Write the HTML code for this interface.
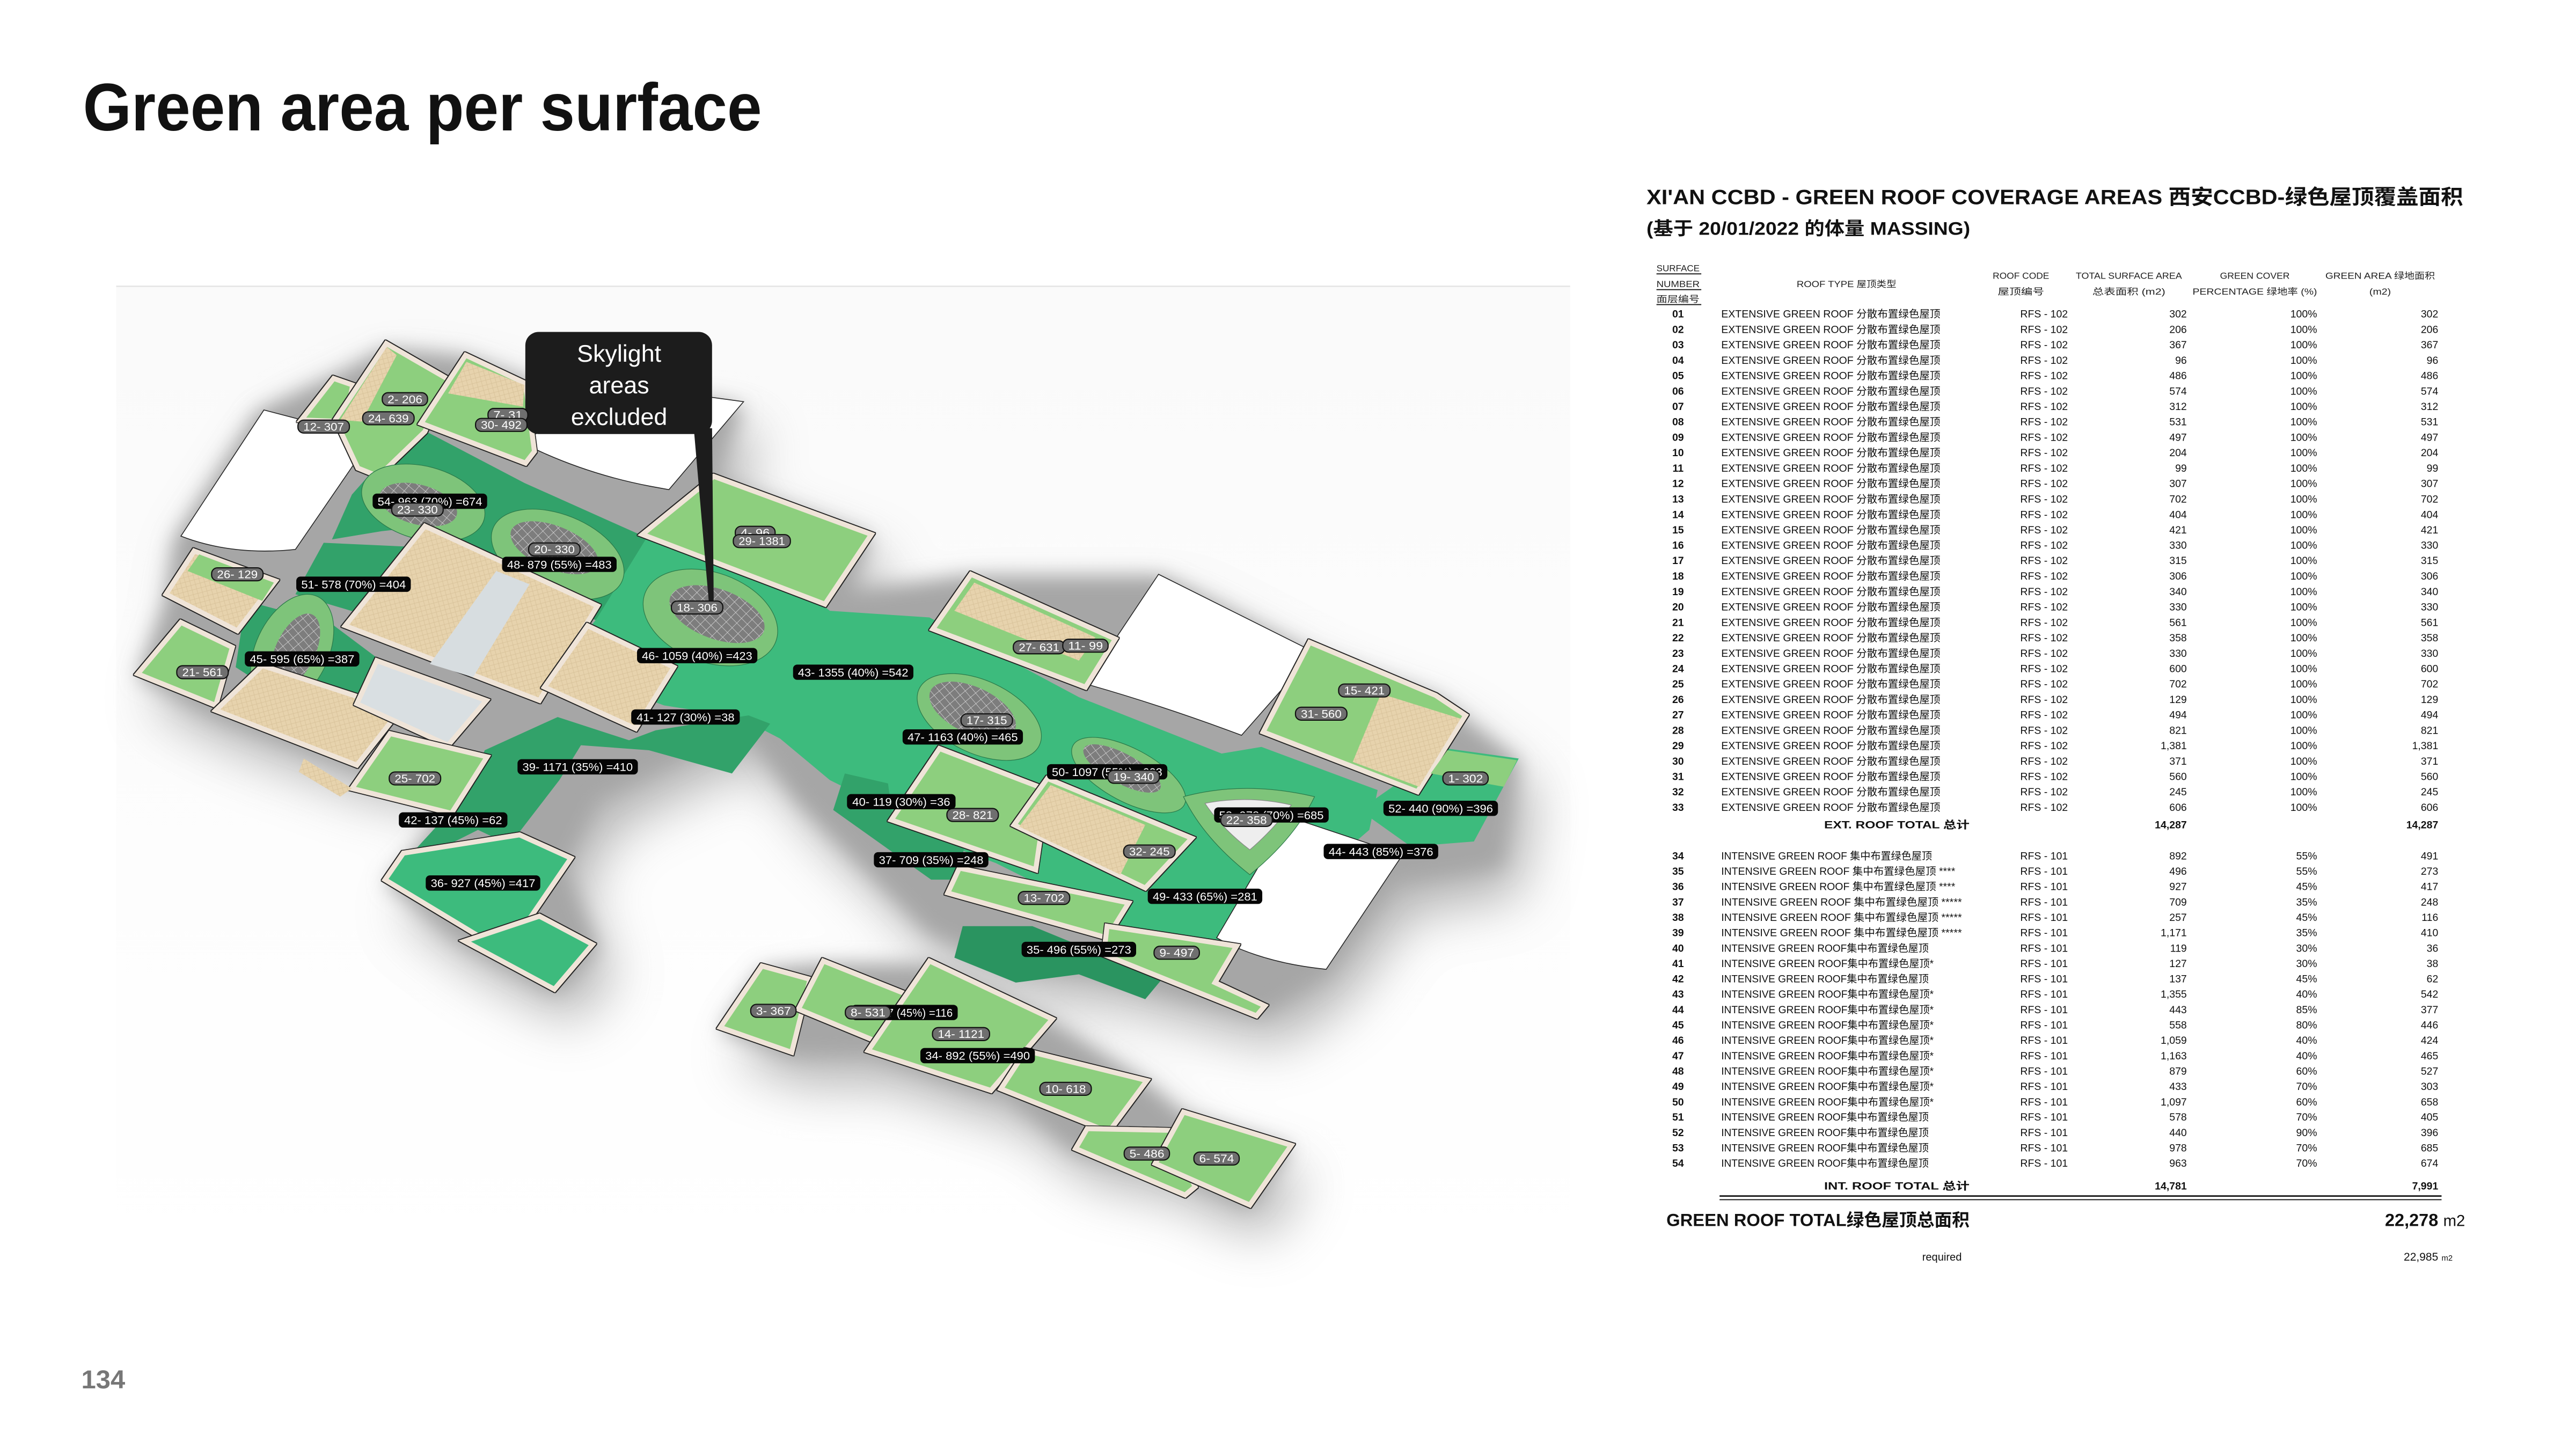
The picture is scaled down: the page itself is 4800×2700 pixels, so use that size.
<!DOCTYPE html>
<html><head><meta charset="utf-8">
<style>
html,body{margin:0;padding:0;background:#fff;}
svg{display:block;}
.f{font-family:"Liberation Sans","Noto Sans CJK SC",sans-serif;}
.tb text{font-size:6.3px;fill:#111;}
.tb .n{text-anchor:middle;font-weight:bold;}
.tb .m{text-anchor:middle;}
.tb .r{text-anchor:end;}
.hd text{font-size:5.3px;fill:#222;text-anchor:middle;}
.tile{stroke:#efe4d8;stroke-width:3;stroke-linejoin:miter;filter:url(#ol);}
.lg{fill:#8dcf7e;}
.bg{fill:#3dbb7d;}
.dg{fill:#32a26a;}
.tan{fill:url(#hatch);}
.wh{fill:#fff;stroke:#222;stroke-width:0.5;}
.bl rect{fill:#050505;}
.bl text{fill:#fff;font-size:7px;text-anchor:middle;}
.gl rect{fill:#6f6f6f;stroke:#111;stroke-width:0.7;}
.gl text{fill:#fff;font-size:7px;text-anchor:middle;}
</style></head>
<body>
<svg class="f" width="4800" height="2700" viewBox="0 0 1552 873" xmlns="http://www.w3.org/2000/svg">
<defs>
<filter id="blur" x="-20%" y="-20%" width="140%" height="140%"><feGaussianBlur stdDeviation="16"/></filter>
<filter id="blur2" x="-20%" y="-20%" width="140%" height="140%"><feGaussianBlur stdDeviation="6"/></filter>
<filter id="ol" x="-10%" y="-10%" width="120%" height="120%"><feMorphology in="SourceAlpha" operator="dilate" radius="0.5" result="d"/><feFlood flood-color="#222"/><feComposite in2="d" operator="in" result="o"/><feMerge><feMergeNode in="o"/><feMergeNode in="SourceGraphic"/></feMerge></filter>
<pattern id="hatch" width="4" height="4" patternUnits="userSpaceOnUse" patternTransform="rotate(30)"><rect width="4" height="4" fill="#e7d3ad"/><path d="M0 0L4 4M4 0L0 4" stroke="#d8c29a" stroke-width="0.3"/></pattern>
<pattern id="grid" width="5" height="4" patternUnits="userSpaceOnUse" patternTransform="rotate(25)"><rect width="5" height="4" fill="#7d7d7d"/><path d="M0 0H5M0 0V4" stroke="#d9d9d9" stroke-width="0.5"/></pattern>
<linearGradient id="bgg" x1="0" y1="0" x2="0" y2="1"><stop offset="0" stop-color="#fafafa"/><stop offset="1" stop-color="#ffffff"/></linearGradient>
</defs>

<text x="50" y="78.6" font-size="40.5" font-weight="bold" fill="#111" textLength="409" lengthAdjust="spacingAndGlyphs">Green area per surface</text>
<text x="49" y="836.4" font-size="15.5" font-weight="bold" fill="#777" textLength="26.4" lengthAdjust="spacingAndGlyphs">134</text>

<rect x="70" y="173" width="876" height="591" fill="url(#bgg)"/>
<line x1="70" y1="172.5" x2="946" y2="172.5" stroke="#e3e3e3" stroke-width="0.8"/>

<g filter="url(#blur)" fill="#959595" opacity="0.7">
<polygon points="115,335 165,260 215,235 245,225 290,232 340,250 440,258 458,262 440,305 535,340 520,375 590,365 710,365 802,412 875,438 925,477 915,540 850,550 810,605 770,630 730,620 670,605 620,600 570,580 490,500 460,460 430,470 370,500 350,540 370,590 345,616 290,587 242,550 260,530 290,490 225,481 140,450 93,426 110,380"/>
<polygon points="469,602 506,599 570,599 644,634 701,671 723,690 788,710 763,746 706,721 658,712 613,676 607,677 533,653 487,654 444,639"/>
</g>
<g filter="url(#blur2)" fill="#a6a6a6">
<polygon points="105,325 155,248 205,225 232,210 280,215 330,234 430,242 448,246 430,289 525,324 510,357 580,347 700,347 792,395 865,420 915,459 905,522 840,532 800,587 760,612 720,602 660,587 610,582 560,562 480,482 450,442 420,452 360,482 340,522 360,572 335,598 280,569 232,532 250,512 280,472 215,463 130,432 83,408 100,362"/>
<polygon points="459,584 496,581 560,581 634,616 691,653 713,672 778,692 753,728 696,703 648,694 603,658 597,659 523,635 477,636 434,621"/>
</g>

<polygon class="dg" points="253,258 316,291 392,325 392,342 360,374 300,350 258,317 230,320 200,325 212,298 235,272"/>
<polygon class="dg" points="195,327 260,330 250,360 235,375 178,358"/>
<polygon class="dg" points="148,362 200,376 232,400 218,432 170,420 142,402"/>
<polygon class="bg" points="389,325 470,345 500,368 560,372 650,420 736,454 760,450 830,476 825,500 790,530 760,560 720,590 690,580 640,540 600,520 560,505 520,480 500,470 470,445 445,432 400,425 360,410 345,392 360,372"/>
<polygon class="dg" points="292,452 336,432 379,446 395,440 451,431 464,436 441,466 391,452 350,449 337,470 307,509 288,500 260,514 251,511 284,475"/>
<polygon class="dg" points="509,466 535,472 538,494 581,509 578,530 561,530 502,488"/>
<polygon fill="#2a9460" points="580,558 622,558 700,590 690,602 650,587 612,592 575,577"/>
<polygon class="bg" points="819,488 872,451 915,457 888,507 850,510"/>

<path class="wh" d="M109,323 L159,247 L224,264 L178,331 Q140,335 109,323 Z"/>
<path class="wh" d="M313,266 L330,258 L426,239 L448,242 L403,295 L392,293 Q350,285 313,266 Z"/>
<path class="wh" d="M698,346 L792,393 L748,443 Q700,425 654,412 Z"/>
<path class="wh" d="M776,492 L845,515 L799,584 Q760,580 733,565 Z"/>

<polygon class="tile lg" points="201,228 212.5,232 208,254 181.5,253"/>
<polygon class="tile lg" points="232.7,207 270,228.5 256,260 228,287 215.6,282 202,253"/>
<polygon class="tan" points="233,209 239,214 218,254 205,253"/>
<polygon class="tile lg" points="280.5,214 316.6,231 322,272 316.6,279 253.7,255"/>
<polygon class="tan" points="281,218 316,232 315,245 270,237"/>
<polygon class="tile lg" points="430,287 525,322 497,364 387,322"/>
<polygon class="tile tan" points="117,332 166,350 143,380 100,358"/>
<polygon class="lg" points="120,334 165,351 158,362 113,344"/>
<polygon class="tile lg" points="109,375 140,390 130,425 83,406"/>

<ellipse cx="255" cy="303" rx="38" ry="22" transform="rotate(15 255 303)" fill="#7ec47a" stroke="#2a7a4a" stroke-width="0.4"/>
<ellipse cx="252" cy="304" rx="24" ry="12" transform="rotate(15 252 304)" fill="url(#grid)"/>
<ellipse cx="336" cy="334" rx="42" ry="24" transform="rotate(22 336 334)" fill="#7ec47a" stroke="#2a7a4a" stroke-width="0.4"/>
<ellipse cx="334" cy="330" rx="28" ry="13" transform="rotate(22 334 330)" fill="url(#grid)"/>
<ellipse cx="428" cy="372" rx="42" ry="27" transform="rotate(20 428 372)" fill="#7ec47a" stroke="#2a7a4a" stroke-width="0.4"/>
<ellipse cx="432" cy="370" rx="30" ry="15" transform="rotate(20 432 370)" fill="url(#grid)"/>
<ellipse cx="176" cy="392" rx="22" ry="36" transform="rotate(25 176 392)" fill="#7ec47a" stroke="#2a7a4a" stroke-width="0.4"/>
<ellipse cx="178" cy="392" rx="12" ry="24" transform="rotate(25 178 392)" fill="url(#grid)"/>
<ellipse cx="590" cy="432" rx="40" ry="22" transform="rotate(25 590 432)" fill="#7ec47a" stroke="#2a7a4a" stroke-width="0.4"/>
<ellipse cx="586" cy="428" rx="28" ry="14" transform="rotate(25 586 428)" fill="url(#grid)"/>
<ellipse cx="680" cy="467" rx="38" ry="16" transform="rotate(28 680 467)" fill="#7ec47a" stroke="#2a7a4a" stroke-width="0.4"/>
<ellipse cx="676" cy="463" rx="26" ry="9" transform="rotate(28 676 463)" fill="url(#grid)"/>
<path d="M713,480 Q750,470 792,480 Q780,505 753,527 Q725,505 713,480 Z" fill="#7ec47a" stroke="#2a7a4a" stroke-width="0.4"/>
<path d="M726,484 Q752,479 778,485 Q768,499 753,512 Q736,499 726,484 Z" fill="#eeeeee" stroke="#888" stroke-width="0.4"/>

<polygon class="tile tan" points="256,317 360,365 325,422 208,377"/>
<polygon fill="#d7dde0" points="299,344 319,352 285,408 259,400"/>
<polygon class="tile tan" points="354,377 406,402 383,439 328,414"/>
<polygon class="tile tan" points="130,428 158,401 241,428 215,461"/>
<polygon class="tile" fill="#d9dfe2" points="227,398 293,422 270,449 215,424"/>
<polygon class="tile lg" points="235,442 293.5,456 272,490 212,475"/>
<polygon class="tan" points="183,457 212,475 205,480 180,465"/>

<polygon class="tile bg" points="243,514 313,503 344,517 305,574 232,530"/>
<polygon class="tile bg" points="325,552 357,569 334,596 280,567"/>

<polygon class="tile lg" points="585,346 672,385 654,414 562,379"/>
<polygon class="tan" points="587,351 660,384 650,398 575,368"/>
<polygon class="tile lg" points="789,387 865,419 883,431 854,477 761,441"/>
<polygon class="tan" points="832,418 880,433 855,474 815,459"/>
<polygon class="lg" points="872,452 914,458 906,474 862,466"/>
<polygon class="tile lg" points="566,451 631,476 624,524 537,494"/>
<polygon class="tile lg" points="631,469 718,505 690,535 611,497"/>
<polygon class="tan" points="633,473 690,497 675,527 614,498"/>
<polygon class="tile lg" points="578,523 680,544 667,565 571,538"/>
<polygon class="tile lg" points="667,558 745,570 732,592 762,606 757,612 665,575"/>

<polygon class="tile lg" points="459,582 488,590 477,634 434,619"/>
<polygon class="tile lg" points="496,579 546,599 527,627 481,608"/>
<polygon class="tile lg" points="560,579 634,614 597,657 523,633"/>
<polygon class="tile lg" points="618,633 691,651 668,682 603,656"/>
<polygon class="tile lg" points="655,680 705,681 720,715 714,720 648,692"/>
<polygon class="tile lg" points="713,670 778,690 753,726 696,701"/>

<rect x="316.5" y="200" width="112.5" height="61.5" rx="8" fill="#1c1c1c"/>
<polygon points="418,258 429,258 430,362 427,362" fill="#1c1c1c"/>
<text x="373" y="218" font-size="14.5" fill="#fff" text-anchor="middle">Skylight</text>
<text x="373" y="237" font-size="14.5" fill="#fff" text-anchor="middle">areas</text>
<text x="373" y="256" font-size="14.5" fill="#fff" text-anchor="middle">excluded</text>

<g class="bl">
<g transform="translate(259,302)"><rect x="-34.5" y="-4.6" width="69" height="9.2" rx="2.5"/><text y="2.5" textLength="63" lengthAdjust="spacingAndGlyphs">54- 963 (70%) =674</text></g>
</g>
<g class="gl">
<g transform="translate(251.5,307)"><rect x="-15.5" y="-3.9" width="31" height="7.8" rx="3.5"/><text y="2.4" textLength="24.5" lengthAdjust="spacingAndGlyphs">23- 330</text></g>
<g transform="translate(334,331)"><rect x="-15.5" y="-3.9" width="31" height="7.8" rx="3.5"/><text y="2.4" textLength="24.5" lengthAdjust="spacingAndGlyphs">20- 330</text></g>
<g transform="translate(244,240.5)"><rect x="-13.7" y="-3.9" width="27.3" height="7.8" rx="3.5"/><text y="2.4" textLength="21" lengthAdjust="spacingAndGlyphs">2- 206</text></g>
<g transform="translate(234,252)"><rect x="-15.5" y="-3.9" width="31" height="7.8" rx="3.5"/><text y="2.4" textLength="24.5" lengthAdjust="spacingAndGlyphs">24- 639</text></g>
<g transform="translate(195,257)"><rect x="-15.5" y="-3.9" width="31" height="7.8" rx="3.5"/><text y="2.4" textLength="24.5" lengthAdjust="spacingAndGlyphs">12- 307</text></g>
<g transform="translate(306,250)"><rect x="-12" y="-3.9" width="24" height="7.8" rx="3.5"/><text y="2.4" textLength="17.5" lengthAdjust="spacingAndGlyphs">7- 31</text></g>
<g transform="translate(302,256)"><rect x="-15.5" y="-3.9" width="31" height="7.8" rx="3.5"/><text y="2.4" textLength="24.5" lengthAdjust="spacingAndGlyphs">30- 492</text></g>
<g transform="translate(455,321)"><rect x="-12" y="-3.9" width="24" height="7.8" rx="3.5"/><text y="2.4" textLength="17.5" lengthAdjust="spacingAndGlyphs">4- 96</text></g>
<g transform="translate(459,326)"><rect x="-17.2" y="-3.9" width="34.4" height="7.8" rx="3.5"/><text y="2.4" textLength="28" lengthAdjust="spacingAndGlyphs">29- 1381</text></g>
<g transform="translate(143,346)"><rect x="-15.5" y="-3.9" width="31" height="7.8" rx="3.5"/><text y="2.4" textLength="24.5" lengthAdjust="spacingAndGlyphs">26- 129</text></g>
<g transform="translate(420,366)"><rect x="-15.5" y="-3.9" width="31" height="7.8" rx="3.5"/><text y="2.4" textLength="24.5" lengthAdjust="spacingAndGlyphs">18- 306</text></g>
<g transform="translate(122,405)"><rect x="-15.5" y="-3.9" width="31" height="7.8" rx="3.5"/><text y="2.4" textLength="24.5" lengthAdjust="spacingAndGlyphs">21- 561</text></g>
<g transform="translate(250,469)"><rect x="-15.5" y="-3.9" width="31" height="7.8" rx="3.5"/><text y="2.4" textLength="24.5" lengthAdjust="spacingAndGlyphs">25- 702</text></g>
<g transform="translate(626,390)"><rect x="-15.5" y="-3.9" width="31" height="7.8" rx="3.5"/><text y="2.4" textLength="24.5" lengthAdjust="spacingAndGlyphs">27- 631</text></g>
<g transform="translate(654,389)"><rect x="-13.7" y="-3.9" width="27.3" height="7.8" rx="3.5"/><text y="2.4" textLength="21" lengthAdjust="spacingAndGlyphs">11- 99</text></g>
<g transform="translate(822,416)"><rect x="-15.5" y="-3.9" width="31" height="7.8" rx="3.5"/><text y="2.4" textLength="24.5" lengthAdjust="spacingAndGlyphs">15- 421</text></g>
<g transform="translate(796,430)"><rect x="-15.5" y="-3.9" width="31" height="7.8" rx="3.5"/><text y="2.4" textLength="24.5" lengthAdjust="spacingAndGlyphs">31- 560</text></g>
<g transform="translate(594.5,434)"><rect x="-15.5" y="-3.9" width="31" height="7.8" rx="3.5"/><text y="2.4" textLength="24.5" lengthAdjust="spacingAndGlyphs">17- 315</text></g>
<g transform="translate(883,469)"><rect x="-13.7" y="-3.9" width="27.3" height="7.8" rx="3.5"/><text y="2.4" textLength="21" lengthAdjust="spacingAndGlyphs">1- 302</text></g>
<g transform="translate(586,491)"><rect x="-15.5" y="-3.9" width="31" height="7.8" rx="3.5"/><text y="2.4" textLength="24.5" lengthAdjust="spacingAndGlyphs">28- 821</text></g>
<g transform="translate(692.5,513)"><rect x="-15.5" y="-3.9" width="31" height="7.8" rx="3.5"/><text y="2.4" textLength="24.5" lengthAdjust="spacingAndGlyphs">32- 245</text></g>
<g transform="translate(629,541)"><rect x="-15.5" y="-3.9" width="31" height="7.8" rx="3.5"/><text y="2.4" textLength="24.5" lengthAdjust="spacingAndGlyphs">13- 702</text></g>
<g transform="translate(709,574)"><rect x="-13.7" y="-3.9" width="27.3" height="7.8" rx="3.5"/><text y="2.4" textLength="21" lengthAdjust="spacingAndGlyphs">9- 497</text></g>
<g transform="translate(466,609)"><rect x="-13.7" y="-3.9" width="27.3" height="7.8" rx="3.5"/><text y="2.4" textLength="21" lengthAdjust="spacingAndGlyphs">3- 367</text></g>
<g transform="translate(579,623)"><rect x="-17.2" y="-3.9" width="34.4" height="7.8" rx="3.5"/><text y="2.4" textLength="28" lengthAdjust="spacingAndGlyphs">14- 1121</text></g>
<g transform="translate(642,656)"><rect x="-15.5" y="-3.9" width="31" height="7.8" rx="3.5"/><text y="2.4" textLength="24.5" lengthAdjust="spacingAndGlyphs">10- 618</text></g>
<g transform="translate(691,695)"><rect x="-13.7" y="-3.9" width="27.3" height="7.8" rx="3.5"/><text y="2.4" textLength="21" lengthAdjust="spacingAndGlyphs">5- 486</text></g>
<g transform="translate(733,698)"><rect x="-13.7" y="-3.9" width="27.3" height="7.8" rx="3.5"/><text y="2.4" textLength="21" lengthAdjust="spacingAndGlyphs">6- 574</text></g>
</g>
<g class="bl">
<g transform="translate(337,340)"><rect x="-34.5" y="-4.6" width="69" height="9.2" rx="2.5"/><text y="2.5" textLength="63" lengthAdjust="spacingAndGlyphs">48- 879 (55%) =483</text></g>
<g transform="translate(213,352)"><rect x="-34.5" y="-4.6" width="69" height="9.2" rx="2.5"/><text y="2.5" textLength="63" lengthAdjust="spacingAndGlyphs">51- 578 (70%) =404</text></g>
<g transform="translate(182,397)"><rect x="-34.5" y="-4.6" width="69" height="9.2" rx="2.5"/><text y="2.5" textLength="63" lengthAdjust="spacingAndGlyphs">45- 595 (65%) =387</text></g>
<g transform="translate(420,395)"><rect x="-36.2" y="-4.6" width="72.5" height="9.2" rx="2.5"/><text y="2.5" textLength="66.5" lengthAdjust="spacingAndGlyphs">46- 1059 (40%) =423</text></g>
<g transform="translate(514,405)"><rect x="-36.2" y="-4.6" width="72.5" height="9.2" rx="2.5"/><text y="2.5" textLength="66.5" lengthAdjust="spacingAndGlyphs">43- 1355 (40%) =542</text></g>
<g transform="translate(413,432)"><rect x="-32.7" y="-4.6" width="65.4" height="9.2" rx="2.5"/><text y="2.5" textLength="59" lengthAdjust="spacingAndGlyphs">41- 127 (30%) =38</text></g>
<g transform="translate(348,462)"><rect x="-36.2" y="-4.6" width="72.5" height="9.2" rx="2.5"/><text y="2.5" textLength="66.5" lengthAdjust="spacingAndGlyphs">39- 1171 (35%) =410</text></g>
<g transform="translate(273,494)"><rect x="-32.7" y="-4.6" width="65.4" height="9.2" rx="2.5"/><text y="2.5" textLength="59" lengthAdjust="spacingAndGlyphs">42- 137 (45%) =62</text></g>
<g transform="translate(291,532)"><rect x="-34.5" y="-4.6" width="69" height="9.2" rx="2.5"/><text y="2.5" textLength="63" lengthAdjust="spacingAndGlyphs">36- 927 (45%) =417</text></g>
<g transform="translate(580,444)"><rect x="-36.2" y="-4.6" width="72.5" height="9.2" rx="2.5"/><text y="2.5" textLength="66.5" lengthAdjust="spacingAndGlyphs">47- 1163 (40%) =465</text></g>
<g transform="translate(667,465)"><rect x="-36.2" y="-4.6" width="72.5" height="9.2" rx="2.5"/><text y="2.5" textLength="66.5" lengthAdjust="spacingAndGlyphs">50- 1097 (55%) =603</text></g>
<g transform="translate(543,483)"><rect x="-32.7" y="-4.6" width="65.4" height="9.2" rx="2.5"/><text y="2.5" textLength="59" lengthAdjust="spacingAndGlyphs">40- 119 (30%) =36</text></g>
<g transform="translate(766,491)"><rect x="-34.5" y="-4.6" width="69" height="9.2" rx="2.5"/><text y="2.5" textLength="63" lengthAdjust="spacingAndGlyphs">53- 978 (70%) =685</text></g>
<g transform="translate(868,487)"><rect x="-34.5" y="-4.6" width="69" height="9.2" rx="2.5"/><text y="2.5" textLength="63" lengthAdjust="spacingAndGlyphs">52- 440 (90%) =396</text></g>
<g transform="translate(832,513)"><rect x="-34.5" y="-4.6" width="69" height="9.2" rx="2.5"/><text y="2.5" textLength="63" lengthAdjust="spacingAndGlyphs">44- 443 (85%) =376</text></g>
<g transform="translate(561,518)"><rect x="-34.5" y="-4.6" width="69" height="9.2" rx="2.5"/><text y="2.5" textLength="63" lengthAdjust="spacingAndGlyphs">37- 709 (35%) =248</text></g>
<g transform="translate(726,540)"><rect x="-34.5" y="-4.6" width="69" height="9.2" rx="2.5"/><text y="2.5" textLength="63" lengthAdjust="spacingAndGlyphs">49- 433 (65%) =281</text></g>
<g transform="translate(650,572)"><rect x="-34.5" y="-4.6" width="69" height="9.2" rx="2.5"/><text y="2.5" textLength="63" lengthAdjust="spacingAndGlyphs">35- 496 (55%) =273</text></g>
<g transform="translate(545,610)"><rect x="-32" y="-4.6" width="64" height="9.2" rx="2.5"/><text y="2.5" textLength="58" lengthAdjust="spacingAndGlyphs">38- 257 (45%) =116</text></g>
<g transform="translate(589,636)"><rect x="-34.5" y="-4.6" width="69" height="9.2" rx="2.5"/><text y="2.5" textLength="63" lengthAdjust="spacingAndGlyphs">34- 892 (55%) =490</text></g>
</g>
<g class="gl">
<g transform="translate(683,468)"><rect x="-15.5" y="-3.9" width="31" height="7.8" rx="3.5"/><text y="2.4" textLength="24.5" lengthAdjust="spacingAndGlyphs">19- 340</text></g>
<g transform="translate(751,494)"><rect x="-15.5" y="-3.9" width="31" height="7.8" rx="3.5"/><text y="2.4" textLength="24.5" lengthAdjust="spacingAndGlyphs">22- 358</text></g>
<g transform="translate(523,610)"><rect x="-13.7" y="-3.9" width="27.3" height="7.8" rx="3.5"/><text y="2.4" textLength="21" lengthAdjust="spacingAndGlyphs">8- 531</text></g>
</g>

<text x="992" y="123" font-size="12.5" font-weight="bold" fill="#111" textLength="492" lengthAdjust="spacingAndGlyphs">XI'AN CCBD - GREEN ROOF COVERAGE AREAS 西安CCBD-绿色屋顶覆盖面积</text>
<text x="992" y="141.5" font-size="11" font-weight="bold" fill="#111" textLength="195" lengthAdjust="spacingAndGlyphs">(基于 20/01/2022 的体量 MASSING)</text>

<g class="hd">
<text x="1011" y="163.5" textLength="26" lengthAdjust="spacingAndGlyphs">SURFACE</text>
<text x="1011" y="173" textLength="26" lengthAdjust="spacingAndGlyphs">NUMBER</text>
<text x="1011" y="182" textLength="26" lengthAdjust="spacingAndGlyphs">面层编号</text>
<text x="1112.5" y="173" textLength="60" lengthAdjust="spacingAndGlyphs">ROOF TYPE 屋顶类型</text>
<text x="1217.6" y="168" textLength="34" lengthAdjust="spacingAndGlyphs">ROOF CODE</text>
<text x="1217.6" y="177.5" textLength="28" lengthAdjust="spacingAndGlyphs">屋顶编号</text>
<text x="1282.6" y="168" textLength="64" lengthAdjust="spacingAndGlyphs">TOTAL SURFACE AREA</text>
<text x="1282.6" y="177.5" textLength="44" lengthAdjust="spacingAndGlyphs">总表面积 (m2)</text>
<text x="1358.5" y="168" textLength="42" lengthAdjust="spacingAndGlyphs">GREEN COVER</text>
<text x="1358.5" y="177.5" textLength="75" lengthAdjust="spacingAndGlyphs">PERCENTAGE 绿地率 (%)</text>
<text x="1434" y="168" textLength="66" lengthAdjust="spacingAndGlyphs">GREEN AREA 绿地面积</text>
<text x="1434" y="177.5" textLength="13" lengthAdjust="spacingAndGlyphs">(m2)</text>
</g>
<g stroke="#111" stroke-width="0.6">
<line x1="998" y1="165" x2="1025" y2="165"/><line x1="998" y1="174.5" x2="1025" y2="174.5"/><line x1="998" y1="183.5" x2="1025" y2="183.5"/>
</g>

<g class="tb">
<g transform="translate(0,191.3)"><text x="1011" class="n">01</text><text x="1037" textLength="132" lengthAdjust="spacingAndGlyphs">EXTENSIVE GREEN ROOF 分散布置绿色屋顶</text><text x="1231.5" class="m">RFS - 102</text><text x="1317.5" class="r">302</text><text x="1396" class="r">100%</text><text x="1469" class="r">302</text></g>
<g transform="translate(0,200.6)"><text x="1011" class="n">02</text><text x="1037" textLength="132" lengthAdjust="spacingAndGlyphs">EXTENSIVE GREEN ROOF 分散布置绿色屋顶</text><text x="1231.5" class="m">RFS - 102</text><text x="1317.5" class="r">206</text><text x="1396" class="r">100%</text><text x="1469" class="r">206</text></g>
<g transform="translate(0,209.9)"><text x="1011" class="n">03</text><text x="1037" textLength="132" lengthAdjust="spacingAndGlyphs">EXTENSIVE GREEN ROOF 分散布置绿色屋顶</text><text x="1231.5" class="m">RFS - 102</text><text x="1317.5" class="r">367</text><text x="1396" class="r">100%</text><text x="1469" class="r">367</text></g>
<g transform="translate(0,219.2)"><text x="1011" class="n">04</text><text x="1037" textLength="132" lengthAdjust="spacingAndGlyphs">EXTENSIVE GREEN ROOF 分散布置绿色屋顶</text><text x="1231.5" class="m">RFS - 102</text><text x="1317.5" class="r">96</text><text x="1396" class="r">100%</text><text x="1469" class="r">96</text></g>
<g transform="translate(0,228.5)"><text x="1011" class="n">05</text><text x="1037" textLength="132" lengthAdjust="spacingAndGlyphs">EXTENSIVE GREEN ROOF 分散布置绿色屋顶</text><text x="1231.5" class="m">RFS - 102</text><text x="1317.5" class="r">486</text><text x="1396" class="r">100%</text><text x="1469" class="r">486</text></g>
<g transform="translate(0,237.8)"><text x="1011" class="n">06</text><text x="1037" textLength="132" lengthAdjust="spacingAndGlyphs">EXTENSIVE GREEN ROOF 分散布置绿色屋顶</text><text x="1231.5" class="m">RFS - 102</text><text x="1317.5" class="r">574</text><text x="1396" class="r">100%</text><text x="1469" class="r">574</text></g>
<g transform="translate(0,247.1)"><text x="1011" class="n">07</text><text x="1037" textLength="132" lengthAdjust="spacingAndGlyphs">EXTENSIVE GREEN ROOF 分散布置绿色屋顶</text><text x="1231.5" class="m">RFS - 102</text><text x="1317.5" class="r">312</text><text x="1396" class="r">100%</text><text x="1469" class="r">312</text></g>
<g transform="translate(0,256.3)"><text x="1011" class="n">08</text><text x="1037" textLength="132" lengthAdjust="spacingAndGlyphs">EXTENSIVE GREEN ROOF 分散布置绿色屋顶</text><text x="1231.5" class="m">RFS - 102</text><text x="1317.5" class="r">531</text><text x="1396" class="r">100%</text><text x="1469" class="r">531</text></g>
<g transform="translate(0,265.6)"><text x="1011" class="n">09</text><text x="1037" textLength="132" lengthAdjust="spacingAndGlyphs">EXTENSIVE GREEN ROOF 分散布置绿色屋顶</text><text x="1231.5" class="m">RFS - 102</text><text x="1317.5" class="r">497</text><text x="1396" class="r">100%</text><text x="1469" class="r">497</text></g>
<g transform="translate(0,274.9)"><text x="1011" class="n">10</text><text x="1037" textLength="132" lengthAdjust="spacingAndGlyphs">EXTENSIVE GREEN ROOF 分散布置绿色屋顶</text><text x="1231.5" class="m">RFS - 102</text><text x="1317.5" class="r">204</text><text x="1396" class="r">100%</text><text x="1469" class="r">204</text></g>
<g transform="translate(0,284.2)"><text x="1011" class="n">11</text><text x="1037" textLength="132" lengthAdjust="spacingAndGlyphs">EXTENSIVE GREEN ROOF 分散布置绿色屋顶</text><text x="1231.5" class="m">RFS - 102</text><text x="1317.5" class="r">99</text><text x="1396" class="r">100%</text><text x="1469" class="r">99</text></g>
<g transform="translate(0,293.5)"><text x="1011" class="n">12</text><text x="1037" textLength="132" lengthAdjust="spacingAndGlyphs">EXTENSIVE GREEN ROOF 分散布置绿色屋顶</text><text x="1231.5" class="m">RFS - 102</text><text x="1317.5" class="r">307</text><text x="1396" class="r">100%</text><text x="1469" class="r">307</text></g>
<g transform="translate(0,302.8)"><text x="1011" class="n">13</text><text x="1037" textLength="132" lengthAdjust="spacingAndGlyphs">EXTENSIVE GREEN ROOF 分散布置绿色屋顶</text><text x="1231.5" class="m">RFS - 102</text><text x="1317.5" class="r">702</text><text x="1396" class="r">100%</text><text x="1469" class="r">702</text></g>
<g transform="translate(0,312.1)"><text x="1011" class="n">14</text><text x="1037" textLength="132" lengthAdjust="spacingAndGlyphs">EXTENSIVE GREEN ROOF 分散布置绿色屋顶</text><text x="1231.5" class="m">RFS - 102</text><text x="1317.5" class="r">404</text><text x="1396" class="r">100%</text><text x="1469" class="r">404</text></g>
<g transform="translate(0,321.4)"><text x="1011" class="n">15</text><text x="1037" textLength="132" lengthAdjust="spacingAndGlyphs">EXTENSIVE GREEN ROOF 分散布置绿色屋顶</text><text x="1231.5" class="m">RFS - 102</text><text x="1317.5" class="r">421</text><text x="1396" class="r">100%</text><text x="1469" class="r">421</text></g>
<g transform="translate(0,330.6)"><text x="1011" class="n">16</text><text x="1037" textLength="132" lengthAdjust="spacingAndGlyphs">EXTENSIVE GREEN ROOF 分散布置绿色屋顶</text><text x="1231.5" class="m">RFS - 102</text><text x="1317.5" class="r">330</text><text x="1396" class="r">100%</text><text x="1469" class="r">330</text></g>
<g transform="translate(0,339.9)"><text x="1011" class="n">17</text><text x="1037" textLength="132" lengthAdjust="spacingAndGlyphs">EXTENSIVE GREEN ROOF 分散布置绿色屋顶</text><text x="1231.5" class="m">RFS - 102</text><text x="1317.5" class="r">315</text><text x="1396" class="r">100%</text><text x="1469" class="r">315</text></g>
<g transform="translate(0,349.2)"><text x="1011" class="n">18</text><text x="1037" textLength="132" lengthAdjust="spacingAndGlyphs">EXTENSIVE GREEN ROOF 分散布置绿色屋顶</text><text x="1231.5" class="m">RFS - 102</text><text x="1317.5" class="r">306</text><text x="1396" class="r">100%</text><text x="1469" class="r">306</text></g>
<g transform="translate(0,358.5)"><text x="1011" class="n">19</text><text x="1037" textLength="132" lengthAdjust="spacingAndGlyphs">EXTENSIVE GREEN ROOF 分散布置绿色屋顶</text><text x="1231.5" class="m">RFS - 102</text><text x="1317.5" class="r">340</text><text x="1396" class="r">100%</text><text x="1469" class="r">340</text></g>
<g transform="translate(0,367.8)"><text x="1011" class="n">20</text><text x="1037" textLength="132" lengthAdjust="spacingAndGlyphs">EXTENSIVE GREEN ROOF 分散布置绿色屋顶</text><text x="1231.5" class="m">RFS - 102</text><text x="1317.5" class="r">330</text><text x="1396" class="r">100%</text><text x="1469" class="r">330</text></g>
<g transform="translate(0,377.1)"><text x="1011" class="n">21</text><text x="1037" textLength="132" lengthAdjust="spacingAndGlyphs">EXTENSIVE GREEN ROOF 分散布置绿色屋顶</text><text x="1231.5" class="m">RFS - 102</text><text x="1317.5" class="r">561</text><text x="1396" class="r">100%</text><text x="1469" class="r">561</text></g>
<g transform="translate(0,386.4)"><text x="1011" class="n">22</text><text x="1037" textLength="132" lengthAdjust="spacingAndGlyphs">EXTENSIVE GREEN ROOF 分散布置绿色屋顶</text><text x="1231.5" class="m">RFS - 102</text><text x="1317.5" class="r">358</text><text x="1396" class="r">100%</text><text x="1469" class="r">358</text></g>
<g transform="translate(0,395.7)"><text x="1011" class="n">23</text><text x="1037" textLength="132" lengthAdjust="spacingAndGlyphs">EXTENSIVE GREEN ROOF 分散布置绿色屋顶</text><text x="1231.5" class="m">RFS - 102</text><text x="1317.5" class="r">330</text><text x="1396" class="r">100%</text><text x="1469" class="r">330</text></g>
<g transform="translate(0,404.9)"><text x="1011" class="n">24</text><text x="1037" textLength="132" lengthAdjust="spacingAndGlyphs">EXTENSIVE GREEN ROOF 分散布置绿色屋顶</text><text x="1231.5" class="m">RFS - 102</text><text x="1317.5" class="r">600</text><text x="1396" class="r">100%</text><text x="1469" class="r">600</text></g>
<g transform="translate(0,414.2)"><text x="1011" class="n">25</text><text x="1037" textLength="132" lengthAdjust="spacingAndGlyphs">EXTENSIVE GREEN ROOF 分散布置绿色屋顶</text><text x="1231.5" class="m">RFS - 102</text><text x="1317.5" class="r">702</text><text x="1396" class="r">100%</text><text x="1469" class="r">702</text></g>
<g transform="translate(0,423.5)"><text x="1011" class="n">26</text><text x="1037" textLength="132" lengthAdjust="spacingAndGlyphs">EXTENSIVE GREEN ROOF 分散布置绿色屋顶</text><text x="1231.5" class="m">RFS - 102</text><text x="1317.5" class="r">129</text><text x="1396" class="r">100%</text><text x="1469" class="r">129</text></g>
<g transform="translate(0,432.8)"><text x="1011" class="n">27</text><text x="1037" textLength="132" lengthAdjust="spacingAndGlyphs">EXTENSIVE GREEN ROOF 分散布置绿色屋顶</text><text x="1231.5" class="m">RFS - 102</text><text x="1317.5" class="r">494</text><text x="1396" class="r">100%</text><text x="1469" class="r">494</text></g>
<g transform="translate(0,442.1)"><text x="1011" class="n">28</text><text x="1037" textLength="132" lengthAdjust="spacingAndGlyphs">EXTENSIVE GREEN ROOF 分散布置绿色屋顶</text><text x="1231.5" class="m">RFS - 102</text><text x="1317.5" class="r">821</text><text x="1396" class="r">100%</text><text x="1469" class="r">821</text></g>
<g transform="translate(0,451.4)"><text x="1011" class="n">29</text><text x="1037" textLength="132" lengthAdjust="spacingAndGlyphs">EXTENSIVE GREEN ROOF 分散布置绿色屋顶</text><text x="1231.5" class="m">RFS - 102</text><text x="1317.5" class="r">1,381</text><text x="1396" class="r">100%</text><text x="1469" class="r">1,381</text></g>
<g transform="translate(0,460.7)"><text x="1011" class="n">30</text><text x="1037" textLength="132" lengthAdjust="spacingAndGlyphs">EXTENSIVE GREEN ROOF 分散布置绿色屋顶</text><text x="1231.5" class="m">RFS - 102</text><text x="1317.5" class="r">371</text><text x="1396" class="r">100%</text><text x="1469" class="r">371</text></g>
<g transform="translate(0,470.0)"><text x="1011" class="n">31</text><text x="1037" textLength="132" lengthAdjust="spacingAndGlyphs">EXTENSIVE GREEN ROOF 分散布置绿色屋顶</text><text x="1231.5" class="m">RFS - 102</text><text x="1317.5" class="r">560</text><text x="1396" class="r">100%</text><text x="1469" class="r">560</text></g>
<g transform="translate(0,479.2)"><text x="1011" class="n">32</text><text x="1037" textLength="132" lengthAdjust="spacingAndGlyphs">EXTENSIVE GREEN ROOF 分散布置绿色屋顶</text><text x="1231.5" class="m">RFS - 102</text><text x="1317.5" class="r">245</text><text x="1396" class="r">100%</text><text x="1469" class="r">245</text></g>
<g transform="translate(0,488.5)"><text x="1011" class="n">33</text><text x="1037" textLength="132" lengthAdjust="spacingAndGlyphs">EXTENSIVE GREEN ROOF 分散布置绿色屋顶</text><text x="1231.5" class="m">RFS - 102</text><text x="1317.5" class="r">606</text><text x="1396" class="r">100%</text><text x="1469" class="r">606</text></g>

<text x="1099" y="499" font-size="8.5" font-weight="bold" textLength="87.6" lengthAdjust="spacingAndGlyphs">EXT. ROOF TOTAL 总计</text>
<text x="1317.5" y="499" class="r" font-size="8.5" font-weight="bold">14,287</text>
<text x="1469" y="499" class="r" font-size="8.5" font-weight="bold">14,287</text>

<g transform="translate(0,517.8)"><text x="1011" class="n">34</text><text x="1037" textLength="127" lengthAdjust="spacingAndGlyphs">INTENSIVE GREEN ROOF 集中布置绿色屋顶</text><text x="1231.5" class="m">RFS - 101</text><text x="1317.5" class="r">892</text><text x="1396" class="r">55%</text><text x="1469" class="r">491</text></g>
<g transform="translate(0,527.1)"><text x="1011" class="n">35</text><text x="1037" textLength="141" lengthAdjust="spacingAndGlyphs">INTENSIVE GREEN ROOF 集中布置绿色屋顶 ****</text><text x="1231.5" class="m">RFS - 101</text><text x="1317.5" class="r">496</text><text x="1396" class="r">55%</text><text x="1469" class="r">273</text></g>
<g transform="translate(0,536.3)"><text x="1011" class="n">36</text><text x="1037" textLength="141" lengthAdjust="spacingAndGlyphs">INTENSIVE GREEN ROOF 集中布置绿色屋顶 ****</text><text x="1231.5" class="m">RFS - 101</text><text x="1317.5" class="r">927</text><text x="1396" class="r">45%</text><text x="1469" class="r">417</text></g>
<g transform="translate(0,545.6)"><text x="1011" class="n">37</text><text x="1037" textLength="145" lengthAdjust="spacingAndGlyphs">INTENSIVE GREEN ROOF 集中布置绿色屋顶 *****</text><text x="1231.5" class="m">RFS - 101</text><text x="1317.5" class="r">709</text><text x="1396" class="r">35%</text><text x="1469" class="r">248</text></g>
<g transform="translate(0,554.8)"><text x="1011" class="n">38</text><text x="1037" textLength="145" lengthAdjust="spacingAndGlyphs">INTENSIVE GREEN ROOF 集中布置绿色屋顶 *****</text><text x="1231.5" class="m">RFS - 101</text><text x="1317.5" class="r">257</text><text x="1396" class="r">45%</text><text x="1469" class="r">116</text></g>
<g transform="translate(0,564.1)"><text x="1011" class="n">39</text><text x="1037" textLength="145" lengthAdjust="spacingAndGlyphs">INTENSIVE GREEN ROOF 集中布置绿色屋顶 *****</text><text x="1231.5" class="m">RFS - 101</text><text x="1317.5" class="r">1,171</text><text x="1396" class="r">35%</text><text x="1469" class="r">410</text></g>
<g transform="translate(0,573.4)"><text x="1011" class="n">40</text><text x="1037" textLength="125" lengthAdjust="spacingAndGlyphs">INTENSIVE GREEN ROOF集中布置绿色屋顶</text><text x="1231.5" class="m">RFS - 101</text><text x="1317.5" class="r">119</text><text x="1396" class="r">30%</text><text x="1469" class="r">36</text></g>
<g transform="translate(0,582.6)"><text x="1011" class="n">41</text><text x="1037" textLength="128" lengthAdjust="spacingAndGlyphs">INTENSIVE GREEN ROOF集中布置绿色屋顶*</text><text x="1231.5" class="m">RFS - 101</text><text x="1317.5" class="r">127</text><text x="1396" class="r">30%</text><text x="1469" class="r">38</text></g>
<g transform="translate(0,591.9)"><text x="1011" class="n">42</text><text x="1037" textLength="125" lengthAdjust="spacingAndGlyphs">INTENSIVE GREEN ROOF集中布置绿色屋顶</text><text x="1231.5" class="m">RFS - 101</text><text x="1317.5" class="r">137</text><text x="1396" class="r">45%</text><text x="1469" class="r">62</text></g>
<g transform="translate(0,601.1)"><text x="1011" class="n">43</text><text x="1037" textLength="128" lengthAdjust="spacingAndGlyphs">INTENSIVE GREEN ROOF集中布置绿色屋顶*</text><text x="1231.5" class="m">RFS - 101</text><text x="1317.5" class="r">1,355</text><text x="1396" class="r">40%</text><text x="1469" class="r">542</text></g>
<g transform="translate(0,610.4)"><text x="1011" class="n">44</text><text x="1037" textLength="128" lengthAdjust="spacingAndGlyphs">INTENSIVE GREEN ROOF集中布置绿色屋顶*</text><text x="1231.5" class="m">RFS - 101</text><text x="1317.5" class="r">443</text><text x="1396" class="r">85%</text><text x="1469" class="r">377</text></g>
<g transform="translate(0,619.7)"><text x="1011" class="n">45</text><text x="1037" textLength="128" lengthAdjust="spacingAndGlyphs">INTENSIVE GREEN ROOF集中布置绿色屋顶*</text><text x="1231.5" class="m">RFS - 101</text><text x="1317.5" class="r">558</text><text x="1396" class="r">80%</text><text x="1469" class="r">446</text></g>
<g transform="translate(0,628.9)"><text x="1011" class="n">46</text><text x="1037" textLength="128" lengthAdjust="spacingAndGlyphs">INTENSIVE GREEN ROOF集中布置绿色屋顶*</text><text x="1231.5" class="m">RFS - 101</text><text x="1317.5" class="r">1,059</text><text x="1396" class="r">40%</text><text x="1469" class="r">424</text></g>
<g transform="translate(0,638.2)"><text x="1011" class="n">47</text><text x="1037" textLength="128" lengthAdjust="spacingAndGlyphs">INTENSIVE GREEN ROOF集中布置绿色屋顶*</text><text x="1231.5" class="m">RFS - 101</text><text x="1317.5" class="r">1,163</text><text x="1396" class="r">40%</text><text x="1469" class="r">465</text></g>
<g transform="translate(0,647.4)"><text x="1011" class="n">48</text><text x="1037" textLength="128" lengthAdjust="spacingAndGlyphs">INTENSIVE GREEN ROOF集中布置绿色屋顶*</text><text x="1231.5" class="m">RFS - 101</text><text x="1317.5" class="r">879</text><text x="1396" class="r">60%</text><text x="1469" class="r">527</text></g>
<g transform="translate(0,656.7)"><text x="1011" class="n">49</text><text x="1037" textLength="128" lengthAdjust="spacingAndGlyphs">INTENSIVE GREEN ROOF集中布置绿色屋顶*</text><text x="1231.5" class="m">RFS - 101</text><text x="1317.5" class="r">433</text><text x="1396" class="r">70%</text><text x="1469" class="r">303</text></g>
<g transform="translate(0,666.0)"><text x="1011" class="n">50</text><text x="1037" textLength="128" lengthAdjust="spacingAndGlyphs">INTENSIVE GREEN ROOF集中布置绿色屋顶*</text><text x="1231.5" class="m">RFS - 101</text><text x="1317.5" class="r">1,097</text><text x="1396" class="r">60%</text><text x="1469" class="r">658</text></g>
<g transform="translate(0,675.2)"><text x="1011" class="n">51</text><text x="1037" textLength="125" lengthAdjust="spacingAndGlyphs">INTENSIVE GREEN ROOF集中布置绿色屋顶</text><text x="1231.5" class="m">RFS - 101</text><text x="1317.5" class="r">578</text><text x="1396" class="r">70%</text><text x="1469" class="r">405</text></g>
<g transform="translate(0,684.5)"><text x="1011" class="n">52</text><text x="1037" textLength="125" lengthAdjust="spacingAndGlyphs">INTENSIVE GREEN ROOF集中布置绿色屋顶</text><text x="1231.5" class="m">RFS - 101</text><text x="1317.5" class="r">440</text><text x="1396" class="r">90%</text><text x="1469" class="r">396</text></g>
<g transform="translate(0,693.7)"><text x="1011" class="n">53</text><text x="1037" textLength="125" lengthAdjust="spacingAndGlyphs">INTENSIVE GREEN ROOF集中布置绿色屋顶</text><text x="1231.5" class="m">RFS - 101</text><text x="1317.5" class="r">978</text><text x="1396" class="r">70%</text><text x="1469" class="r">685</text></g>
<g transform="translate(0,703.0)"><text x="1011" class="n">54</text><text x="1037" textLength="125" lengthAdjust="spacingAndGlyphs">INTENSIVE GREEN ROOF集中布置绿色屋顶</text><text x="1231.5" class="m">RFS - 101</text><text x="1317.5" class="r">963</text><text x="1396" class="r">70%</text><text x="1469" class="r">674</text></g>

<text x="1099" y="716.6" font-size="8.5" font-weight="bold" textLength="87.6" lengthAdjust="spacingAndGlyphs">INT. ROOF TOTAL 总计</text>
<text x="1317.5" y="716.6" class="r" font-size="8.5" font-weight="bold">14,781</text>
<text x="1469" y="716.6" class="r" font-size="8.5" font-weight="bold">7,991</text>
</g>

<line x1="1036" y1="720.6" x2="1471" y2="720.6" stroke="#111" stroke-width="0.9"/>
<line x1="1036" y1="722.8" x2="1471" y2="722.8" stroke="#111" stroke-width="0.6"/>

<text x="1004" y="738.6" font-size="10.5" font-weight="bold" fill="#111" textLength="182.6" lengthAdjust="spacingAndGlyphs">GREEN ROOF TOTAL绿色屋顶总面积</text>
<text x="1469" y="738.6" font-size="10.5" font-weight="bold" fill="#111" text-anchor="end">22,278</text>
<text x="1472" y="738.6" font-size="9.5" fill="#111">m2</text>
<text x="1170" y="759.5" font-size="6.5" fill="#111" text-anchor="middle">required</text>
<text x="1469" y="759.5" font-size="6.8" fill="#111" text-anchor="end">22,985</text>
<text x="1471" y="759.5" font-size="4.8" fill="#111">m2</text>
</svg>
</body></html>
